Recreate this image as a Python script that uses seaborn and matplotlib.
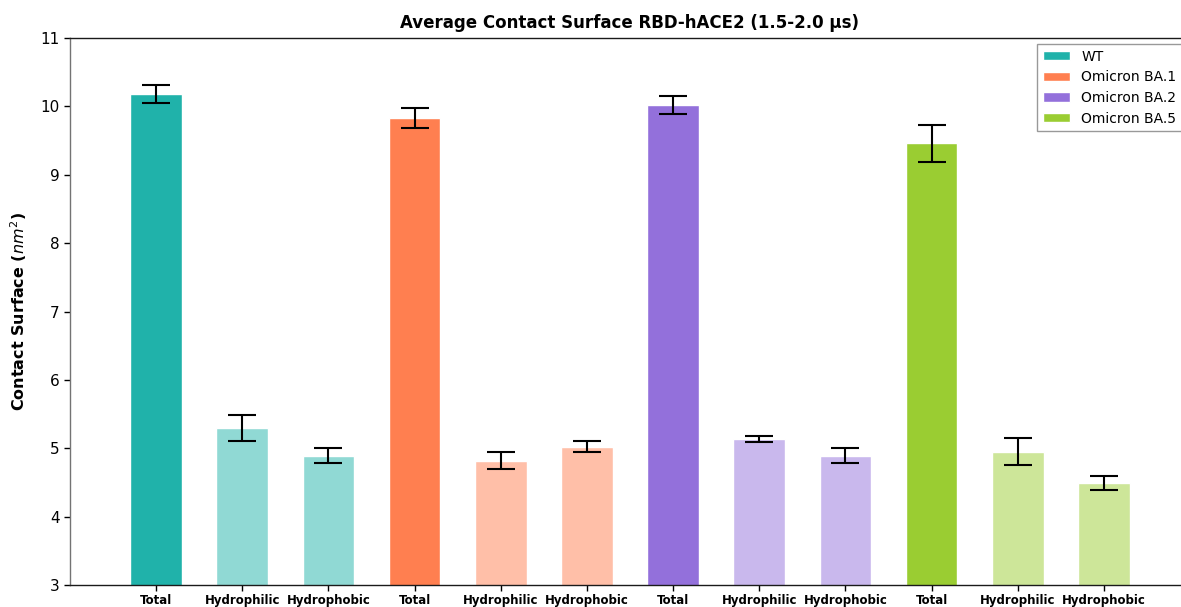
import matplotlib
matplotlib.use("Agg")
import matplotlib.pyplot as plt
from matplotlib.patches import Patch
import numpy as np
import pandas as pd
import seaborn as sns

variants = ["WT", "Omicron BA.1", "Omicron BA.2", "Omicron BA.5"]
components = ["Total", "Hydrophilic", "Hydrophobic"]
variant_colors = ["#20B2AA", "#FF7F50", "#9370DB", "#9ACD32"]

# mean contact surface (nm^2) per variant: Total, Hydrophilic, Hydrophobic
wt_mean = [10.18, 5.30, 4.89]
ba1_mean = [9.83, 4.82, 5.02]
ba2_mean = [10.02, 5.14, 4.89]
ba5_mean = [9.46, 4.95, 4.49]

# standard deviations
wt_err = [0.13, 0.19, 0.11]
ba1_err = [0.15, 0.12, 0.08]
ba2_err = [0.13, 0.045, 0.11]
ba5_err = [0.27, 0.195, 0.105]

means = [wt_mean, ba1_mean, ba2_mean, ba5_mean]
errs = [wt_err, ba1_err, ba2_err, ba5_err]

rows = []
for v, m, e in zip(variants, means, errs):
    for c, mv, ev in zip(components, m, e):
        rows.append({"bar": f"{v} {c}", "variant": v, "component": c,
                     "surface": mv, "sd": ev})
df = pd.DataFrame(rows)


def lighten(hex_color, amount=0.5):
    rgb = np.array(matplotlib.colors.to_rgb(hex_color))
    return tuple(rgb + (1 - rgb) * amount)


bar_colors = []
for col in variant_colors:
    bar_colors += [col, lighten(col), lighten(col)]

sns.set_style("white")
plt.rcParams["font.family"] = ["DejaVu Sans"]
plt.rcParams["text.color"] = "black"
plt.rcParams["axes.labelcolor"] = "black"
plt.rcParams["xtick.color"] = "black"
plt.rcParams["ytick.color"] = "black"

fig = plt.figure(figsize=(11.81, 6.07), dpi=100)
ax = fig.add_axes([70 / 1181, 22 / 607, 1120 / 1181, 547 / 607])

sns.barplot(data=df, x="bar", y="surface", hue="bar", palette=bar_colors,
            order=df["bar"], hue_order=df["bar"], width=0.6, errorbar=None,
            legend=False, saturation=1, ax=ax)

pos = np.arange(len(df))
ax.errorbar(pos, df["surface"], yerr=df["sd"], fmt="none", ecolor="black",
            elinewidth=1.5, capsize=10, capthick=1.5, zorder=5)

ax.set_xlim(-1, 12)
ax.set_ylim(3, 11)
ax.set_yticks(range(3, 12))
ax.set_xticks(pos)
ax.set_xticklabels(df["component"], fontsize=8.5, fontweight="bold")
ax.tick_params(axis="y", labelsize=11, length=4, left=True, width=1,
               colors="black")
ax.tick_params(axis="x", length=4, bottom=True, width=1, pad=2.5,
               colors="black")
ax.set_xlabel("")
ax.set_ylabel("Contact Surface ($nm^2$)", fontsize=11.5, fontweight="bold",
              labelpad=8, color="black")
ax.set_title("Average Contact Surface RBD-hACE2 (1.5-2.0 µs)", fontsize=12,
             fontweight="bold", pad=7, color="black")

for name, sp in ax.spines.items():
    sp.set_linewidth(1)
    sp.set_color("0.1")
ax.spines["left"].set_color("0.45")
ax.spines["right"].set_visible(False)

handles = [Patch(facecolor=c, label=v) for v, c in zip(variants, variant_colors)]
fig.legend(handles=handles, loc="upper left",
           bbox_to_anchor=(1037 / 1181, 1 - 44 / 607), fontsize=10,
           frameon=True, fancybox=False, edgecolor="0.6", framealpha=1,
           handlelength=2.0, handleheight=0.65, labelspacing=0.48,
           borderpad=0.4, handletextpad=0.8, borderaxespad=0)

fig.savefig("out.png", dpi=100)
